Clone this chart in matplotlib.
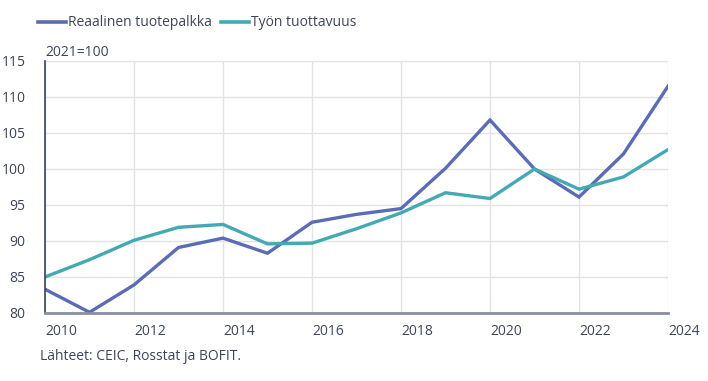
import numpy as np
import matplotlib.pyplot as plt
from matplotlib.lines import Line2D

years = list(range(2010, 2025))
palkka = [83.3, 80.1, 83.9, 89.1, 90.4, 88.3, 92.6, 93.7, 94.5, 100.1, 106.8, 100.0, 96.1, 102.1, 111.5]
tuottavuus = [85.0, 87.4, 90.1, 91.9, 92.3, 89.6, 89.7, 91.7, 93.9, 96.7, 95.9, 100.0, 97.2, 98.9, 102.7]
labels = ["Reaalinen tuotepalkka", "Työn tuottavuus"]
colors = ["#5b6cb4", "#44a9b2"]
yticks = [80, 85, 90, 95, 100, 105, 110, 115]
xticks = list(range(2010, 2025, 2))

plt.rcParams['font.family'] = ['Open Sans', 'DejaVu Sans']
txt = "#3e4459"

fig = plt.figure(figsize=(7.08, 3.81), dpi=100)
ax = fig.add_axes([45/708, 1 - 313/381, 623/708, 252/381])

ax.plot(years, palkka, color=colors[0], lw=2.4, solid_joinstyle='miter')
ax.plot(years, tuottavuus, color=colors[1], lw=2.4, solid_joinstyle='miter')

ax.set_xlim(2010, 2024)
ax.set_ylim(80, 115)
ax.set_yticks(yticks)
ax.set_xticks(xticks)
ax.set_xticklabels([str(x) for x in xticks], ha='left')
ax.grid(True, color="#e3e3e6", lw=1)
ax.set_axisbelow(True)
ax.tick_params(length=0, labelsize=10, colors=txt, pad=8)
ax.tick_params(axis='y', pad=14)
for s in ['top', 'right']:
    ax.spines[s].set_visible(False)
ax.spines['left'].set_color("#3a4060")
ax.spines['left'].set_linewidth(1.2)
ax.spines['bottom'].set_color("#8a8ea3")
ax.spines['bottom'].set_linewidth(2)

handles = [Line2D([], [], color=c, lw=2.6) for c in colors]
fig.legend(handles, labels, loc='center left', bbox_to_anchor=(38/708, 1 - 23/381),
           ncol=2, frameon=False, fontsize=10, handlelength=2.0, handletextpad=0.15,
           columnspacing=0.7, borderpad=0, borderaxespad=0, labelcolor=txt)

fig.text(45/708, 1 - 53/381, "2021=100", fontsize=10, color=txt, va='center', ha='left')
fig.text(40/708, 1 - 357/381, "Lähteet: CEIC, Rosstat ja BOFIT.", fontsize=10, color=txt,
         va='center', ha='left')

fig.savefig("out.png", dpi=100)
